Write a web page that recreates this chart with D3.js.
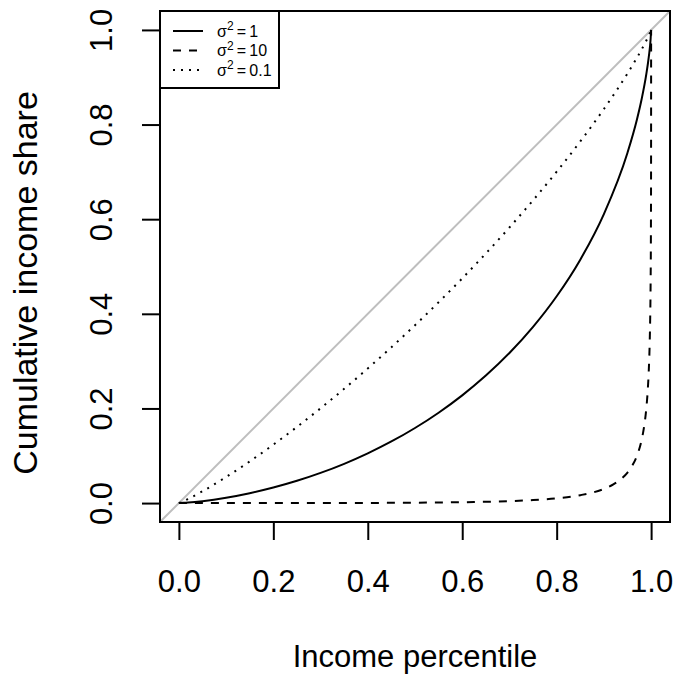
<!DOCTYPE html>
<html>
<head>
<meta charset="utf-8">
<script src="https://cdn.jsdelivr.net/npm/d3@7"></script>
<style>
  html, body { margin: 0; padding: 0; background: #ffffff; }
  svg { display: block; font-family: "Liberation Sans", Arial, Helvetica, sans-serif; }
</style>
</head>
<body>
<svg id="chart" width="676" height="676"></svg>
<script>
// Lorenz curves of lognormal incomes for three variances
const pctGrid = [0, 0.01, 0.02, 0.05, 0.1, 0.15, 0.2, 0.25, 0.3, 0.35, 0.4, 0.45, 0.5,
  0.55, 0.6, 0.65, 0.7, 0.75, 0.8, 0.85, 0.9, 0.95, 0.97, 0.98, 0.99, 0.995, 0.999, 1];

const shareVar1 = [0, 0.00044, 0.00113, 0.00409, 0.01126, 0.02086, 0.03277, 0.04702, 0.06371,
  0.08298, 0.10505, 0.13015, 0.15866, 0.19098, 0.22762, 0.26938, 0.31718, 0.37240, 0.43707,
  0.51452, 0.61087, 0.74050, 0.81079, 0.85399, 0.90762, 0.94247, 0.98170, 1];

const shareVar01 = [0, 0.00412, 0.00890, 0.02493, 0.05505, 0.08809, 0.12347, 0.16092, 0.20028,
  0.24149, 0.28451, 0.32928, 0.37592, 0.42445, 0.47492, 0.52755, 0.58247, 0.63994, 0.70035,
  0.76430, 0.83283, 0.90802, 0.94116, 0.95884, 0.97779, 0.98808, 0.99723, 1];

const pctGrid10 = [0, 0.05, 0.1, 0.15, 0.2, 0.25, 0.3, 0.35, 0.4, 0.45, 0.5, 0.55, 0.6, 0.65,
  0.7, 0.75, 0.8, 0.85, 0.9, 0.92, 0.94, 0.95, 0.96, 0.97, 0.98, 0.985, 0.99, 0.993, 0.995,
  0.997, 0.998, 0.999, 0.9995, 0.9999, 0.99999, 1];

const shareVar10 = [0, 0.000001, 0.000004, 0.000013, 0.000031, 0.000062, 0.000114, 0.000194,
  0.000318, 0.000505, 0.000783, 0.001196, 0.001813, 0.002743, 0.004170, 0.006427, 0.010152,
  0.016760, 0.030005, 0.039440, 0.053970, 0.064580, 0.079040, 0.100030, 0.133800, 0.160550,
  0.201580, 0.240400, 0.278770, 0.339250, 0.388170, 0.471260, 0.551000, 0.711140, 0.864900, 1];

const tickValues = [0, 0.2, 0.4, 0.6, 0.8, 1.0];
const legendLabels = ["1", "10", "0.1"];
const legendDashes = ["none", "8,8", "2,6"];

const svg = d3.select("#chart");
const box = { left: 160, right: 670, top: 11, bottom: 522 };
const fontSize = 31;

const x = d3.scaleLinear().domain([-0.04, 1.04]).range([box.left, box.right]);
const y = d3.scaleLinear().domain([-0.04, 1.04]).range([box.bottom, box.top]);

svg.append("defs").append("clipPath").attr("id", "plotclip")
  .append("rect")
  .attr("x", box.left).attr("y", box.top)
  .attr("width", box.right - box.left).attr("height", box.bottom - box.top);

const plot = svg.append("g").attr("clip-path", "url(#plotclip)");

// line of perfect equality
plot.append("line")
  .attr("x1", x(-0.04)).attr("y1", y(-0.04))
  .attr("x2", x(1.04)).attr("y2", y(1.04))
  .attr("stroke", "#bebebe").attr("stroke-width", 2);

const line = d3.line()
  .x(d => x(d[0])).y(d => y(d[1]))
  .curve(d3.curveMonotoneX);

const series = [
  { p: pctGrid, s: shareVar1, dash: legendDashes[0] },
  { p: pctGrid10, s: shareVar10, dash: legendDashes[1] },
  { p: pctGrid, s: shareVar01, dash: legendDashes[2] }
];

series.forEach(sr => {
  plot.append("path")
    .datum(d3.zip(sr.p, sr.s))
    .attr("d", line)
    .attr("fill", "none")
    .attr("stroke", "#000")
    .attr("stroke-width", 2)
    .attr("stroke-dasharray", sr.dash);
});

// plot frame
svg.append("rect")
  .attr("x", box.left).attr("y", box.top)
  .attr("width", box.right - box.left).attr("height", box.bottom - box.top)
  .attr("fill", "none").attr("stroke", "#000").attr("stroke-width", 2);

const fmt = d3.format(".1f");

// x axis
const gx = svg.append("g")
  .attr("transform", `translate(0,${box.bottom})`)
  .call(d3.axisBottom(x).tickValues(tickValues).tickFormat(fmt).tickSize(18).tickPadding(30));
gx.select(".domain").remove();
gx.selectAll(".tick line").attr("stroke", "#000").attr("stroke-width", 2);
gx.selectAll(".tick text")
  .attr("font-size", fontSize).attr("font-family", "Liberation Sans, Arial, sans-serif")
  .attr("fill", "#000");

// y axis, labels parallel to the axis
const gy = svg.append("g")
  .attr("transform", `translate(${box.left},0)`)
  .call(d3.axisLeft(y).tickValues(tickValues).tickFormat(fmt).tickSize(18));
gy.select(".domain").remove();
gy.selectAll(".tick line").attr("stroke", "#000").attr("stroke-width", 2);
gy.selectAll(".tick text")
  .attr("x", null).attr("dy", null)
  .attr("transform", "translate(-48,0) rotate(-90)")
  .attr("text-anchor", "middle")
  .attr("font-size", fontSize).attr("font-family", "Liberation Sans, Arial, sans-serif")
  .attr("fill", "#000");

// axis titles
svg.append("text")
  .attr("x", (box.left + box.right) / 2).attr("y", 667)
  .attr("text-anchor", "middle").attr("font-size", fontSize)
  .text("Income percentile");

svg.append("text")
  .attr("transform", "translate(37,283) rotate(-90)")
  .attr("text-anchor", "middle").attr("font-size", 34)
  .text("Cumulative income share");

// legend
const lg = svg.append("g");
lg.append("rect")
  .attr("x", box.left).attr("y", box.top)
  .attr("width", 119).attr("height", 77)
  .attr("fill", "#fff").attr("stroke", "#000").attr("stroke-width", 2);

legendLabels.forEach((lab, i) => {
  const ry = 31 + i * 19.5;
  lg.append("line")
    .attr("x1", 173).attr("x2", 203).attr("y1", ry).attr("y2", ry)
    .attr("stroke", "#000").attr("stroke-width", 2)
    .attr("stroke-dasharray", legendDashes[i]);
  const t = lg.append("text").attr("x", 217).attr("y", ry + 5.5).attr("font-size", 16);
  t.append("tspan").text("σ");
  t.append("tspan").attr("font-size", 12).attr("dy", -6.5).text("2");
  t.append("tspan").attr("dy", 6.5).text("\u2009=\u2009" + lab);
});
</script>
</body>
</html>
